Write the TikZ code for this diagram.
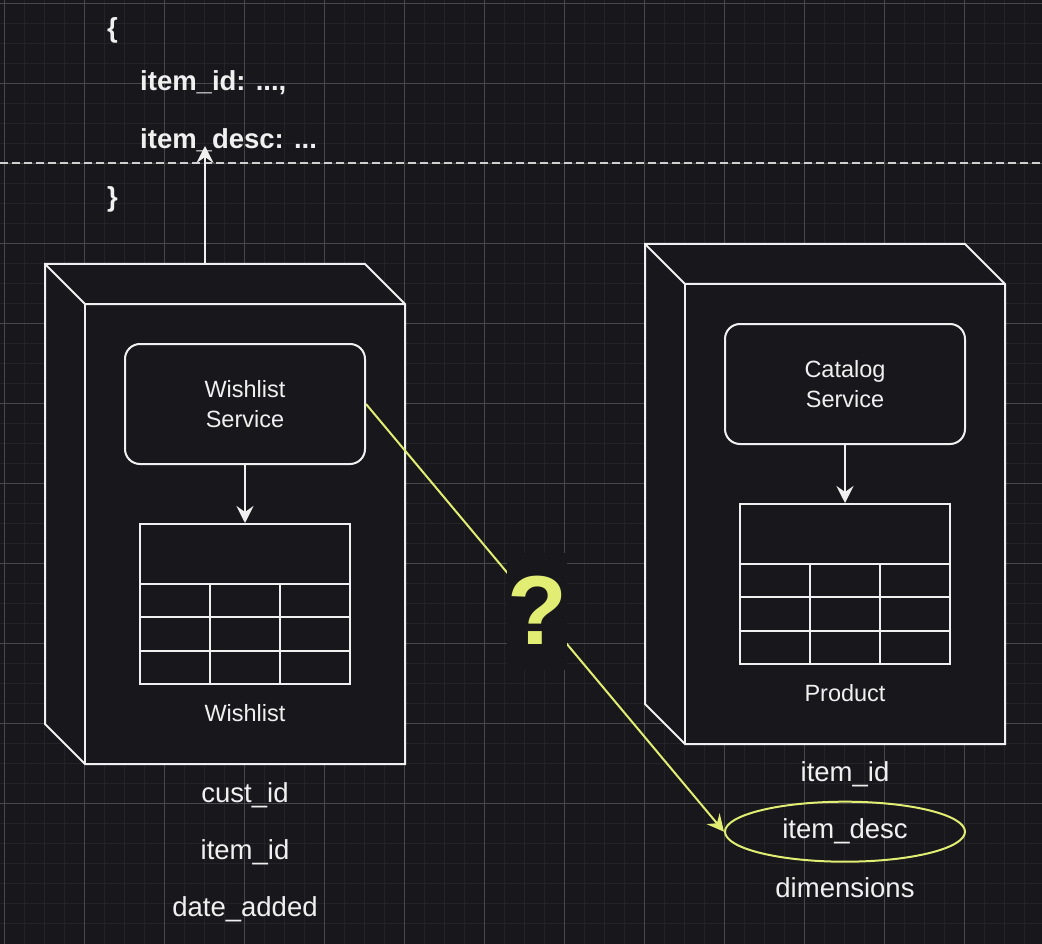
\documentclass[tikz,border=0pt]{standalone}
\usepackage{fontspec}
\setmainfont{Liberation Sans}
\usetikzlibrary{arrows.meta,shapes.geometric}
\definecolor{bg}{HTML}{18171C}
\definecolor{gridminor}{HTML}{242328}
\definecolor{gridmajor}{HTML}{48474C}
\definecolor{ink}{HTML}{F0F0F0}
\definecolor{acc}{HTML}{E1EE73}
\tikzset{
  cubeline/.style={draw=ink, line width=2pt, fill=bg, line join=miter},
  cubeedge/.style={draw=ink, line width=2pt},
  svcbox/.style={draw=ink, line width=2pt, fill=bg, rounded corners=15pt,
    minimum width=240pt, minimum height=120pt, inner sep=0pt, align=center,
    text=ink, font=\fontsize{23.5}{30}\selectfont},
  tabbox/.style={draw=ink, line width=2pt, fill=bg, minimum width=210pt,
    minimum height=160pt, inner sep=0pt},
  tabline/.style={draw=ink, line width=2pt},
  boxtxt/.style={text=ink, inner sep=0pt, font=\fontsize{23.5}{30}\selectfont},
  attrtxt/.style={text=ink, inner sep=0pt, font=\fontsize{27.5}{33}\selectfont},
  jsontxt/.style={text=ink, inner sep=0pt, font=\bfseries\fontsize{27.5}{33}\selectfont},
  wire/.style={draw=ink, line width=2pt, -{Stealth[length=17pt,width=17pt,inset=6pt]}},
  accwire/.style={draw=acc, line width=2pt, -{Stealth[length=17pt,width=17pt,inset=6pt]}},
  accoval/.style={ellipse, draw=acc, line width=2pt, minimum width=240pt,
    minimum height=60pt, inner sep=0pt, text=ink, font=\fontsize{27.5}{33}\selectfont},
  qmark/.style={fill=bg, text=acc, inner sep=0pt, minimum width=58pt,
    text height=91.75pt, text depth=25.25pt,
    font=\bfseries\fontsize{98}{100}\selectfont},
  divider/.style={draw=ink!85!bg, line width=1.5pt, dash pattern=on 8pt off 4pt}
}
\begin{document}
\begin{tikzpicture}[x=1pt,y=-1pt]
\useasboundingbox[fill=bg] (0,0) rectangle (1042,944);
% grid
\foreach \x in {4.5,24.5,...,1044} \draw[gridminor,line width=1pt] (\x,0) -- (\x,944);
\foreach \y in {3.5,23.5,...,943} \draw[gridminor,line width=1pt] (0,\y) -- (1042,\y);
\foreach \x in {4.5,84.5,...,1004} \draw[gridmajor,line width=1pt] (\x,0) -- (\x,944);
\foreach \y in {3.5,83.5,...,883} \draw[gridmajor,line width=1pt] (0,\y) -- (1042,\y);

% JSON text
\node[jsontxt] (jopen) at (112.5,30) {\{};
\node[jsontxt, anchor=base west] (jid) at (140,91) {item\_id: ...,};
\node[jsontxt, anchor=base west] (jdesc) at (140,149) {item\_desc: ...};
\node[jsontxt] (jclose) at (112.5,199.5) {\}};
\coordinate (dl) at (0,163);
\coordinate (dr) at (1042,163);
\draw[divider] (dl) -- (dr);

% left cube
\path[cubeline] (45,264) -- (365,264) -- (405,304) -- (405,764) -- (85,764) -- (45,724) -- cycle;
\draw[cubeedge] (45,264) -- (85,304) -- (405,304);
\draw[cubeedge] (85,304) -- (85,764);
\coordinate (wtop) at (205,264);
\coordinate (jtip) at (205,146);
\draw[wire] (wtop) -- (jtip);

\node[svcbox] (wsvc) at (245,404) {Wishlist\\Service};
\node[tabbox] (wtab) at (245,604) {};
\draw[tabline] (140,584) -- (350,584);
\draw[tabline] (140,617) -- (350,617);
\draw[tabline] (140,651) -- (350,651);
\draw[tabline] (210,584) -- (210,684);
\draw[tabline] (280,584) -- (280,684);
\draw[wire] (wsvc.south) -- (wtab.north);
\node[boxtxt, anchor=base] (wlbl) at (245,721.7) {Wishlist};

\node[attrtxt, anchor=base] (wa1) at (245,802.7) {cust\_id};
\node[attrtxt, anchor=base] (wa2) at (245,859.3) {item\_id};
\node[attrtxt, anchor=base] (wa3) at (245,916.7) {date\_added};

% right cube
\path[cubeline] (645,244) -- (965,244) -- (1005,284) -- (1005,744) -- (685,744) -- (645,704) -- cycle;
\draw[cubeedge] (645,244) -- (685,284) -- (1005,284);
\draw[cubeedge] (685,284) -- (685,744);

\node[svcbox] (csvc) at (845,384) {Catalog\\Service};
\node[tabbox] (ctab) at (845,584) {};
\draw[tabline] (740,564) -- (950,564);
\draw[tabline] (740,597) -- (950,597);
\draw[tabline] (740,631) -- (950,631);
\draw[tabline] (810,564) -- (810,664);
\draw[tabline] (880,564) -- (880,664);
\draw[wire] (csvc.south) -- (ctab.north);
\node[boxtxt, anchor=base] (clbl) at (845,701.7) {Product};

\node[attrtxt, anchor=base] (ca1) at (845,781.7) {item\_id};
\node[accoval] (desc) at (845,831.7) {item\_desc};
\node[attrtxt, anchor=base] (ca3) at (845,897.3) {dimensions};

% question connector
\draw[accwire] (wsvc.east) -- node[qmark, pos=0.5, xshift=-8pt, yshift=6.5pt] (qm) {?} (desc.west);
\end{tikzpicture}
\end{document}
